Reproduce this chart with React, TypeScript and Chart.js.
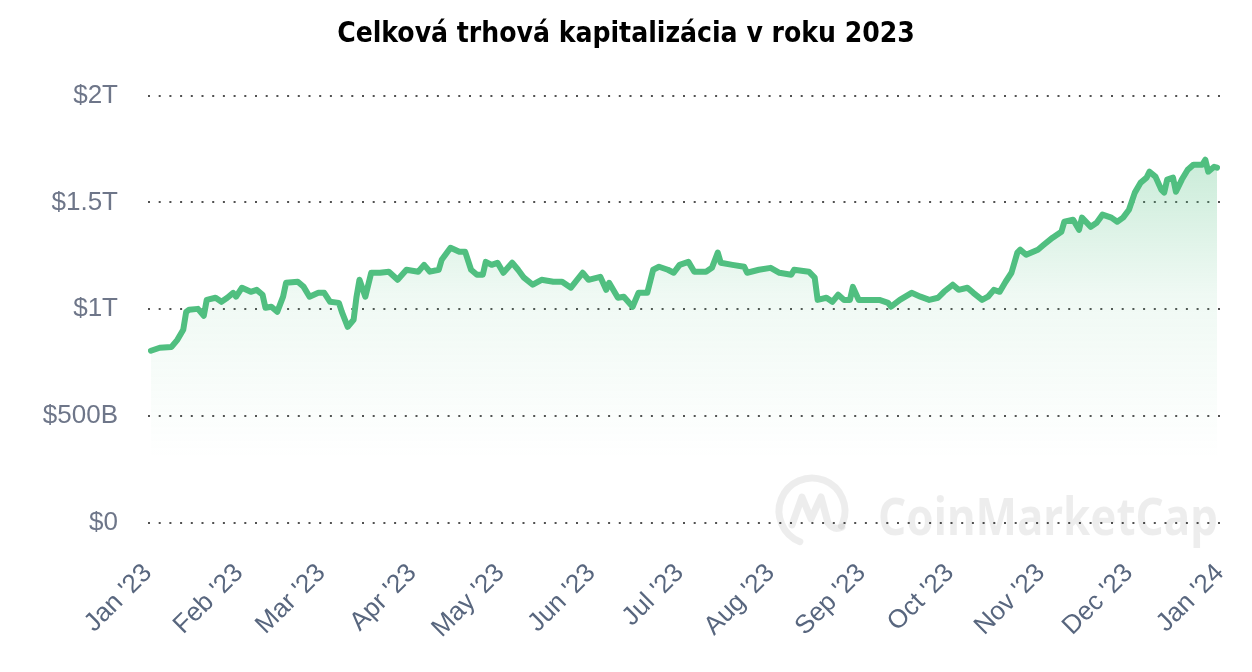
import React, { useEffect, useRef } from "react";
import { Chart, registerables } from "chart.js";

Chart.register(...registerables);

const chartTitle = "Celková trhová kapitalizácia v roku 2023";
const monthLabels = [
  "Jan '23", "Feb '23", "Mar '23", "Apr '23", "May '23", "Jun '23", "Jul '23",
  "Aug '23", "Sep '23", "Oct '23", "Nov '23", "Dec '23", "Jan '24",
];
const monthStartDays = [0, 31, 59, 90, 120, 151, 181, 212, 243, 273, 304, 334, 365];
const yTickValues = [0, 500, 1000, 1500, 2000];

// day of year 2023 (0 = Jan 1) and total market cap in billions USD
const dayOfYear = [
  1, 4, 8, 10, 12, 13, 14, 17, 19, 20, 23, 25, 27, 29, 30, 32, 35, 37, 39, 40,
  42, 44, 46, 47, 51, 53, 55, 58, 60, 62, 65, 66, 68, 70, 71, 72, 74, 76, 79, 82,
  85, 88, 92, 94, 96, 99, 100, 103, 106, 108, 110, 112, 114, 115, 117, 119, 121, 124, 126, 128,
  131, 134, 138, 141, 144, 148, 150, 154, 156, 157, 160, 162, 165, 167, 170, 172, 174, 177, 179, 181,
  184, 186, 190, 192, 194, 195, 199, 203, 204, 208, 212, 215, 219, 220, 225, 227, 228, 231, 233, 235,
  237, 239, 240, 242, 246, 249, 252, 253, 256, 260, 263, 266, 269, 271, 274, 276, 279, 281, 284, 286,
  288, 290, 292, 294, 296, 297, 299, 303, 305, 308, 311, 312, 315, 317, 318, 321, 323, 325, 328, 330,
  332, 334, 336, 338, 340, 341, 343, 345, 346, 347, 349, 350, 352, 354, 356, 359, 360, 361, 363, 364,
];
const marketCapB = [
  806, 820, 824, 857, 904, 988, 998, 1002, 970, 1044, 1054, 1035, 1054, 1077, 1059, 1101, 1082, 1091, 1068, 1007,
  1012, 988, 1059, 1124, 1129, 1105, 1059, 1077, 1077, 1035, 1030, 988, 918, 951, 1059, 1138, 1059, 1171, 1171, 1176,
  1138, 1185, 1176, 1208, 1176, 1185, 1232, 1288, 1269, 1269, 1185, 1162, 1162, 1222, 1208, 1218, 1171, 1218, 1185, 1148,
  1115, 1138, 1129, 1129, 1101, 1171, 1138, 1152, 1091, 1124, 1054, 1059, 1012, 1077, 1077, 1185, 1199, 1185, 1171, 1208,
  1222, 1176, 1176, 1194, 1265, 1218, 1208, 1199, 1171, 1185, 1194, 1171, 1162, 1185, 1176, 1148, 1044, 1054, 1035, 1068,
  1044, 1044, 1105, 1044, 1044, 1044, 1030, 1012, 1044, 1077, 1059, 1044, 1054, 1082, 1115, 1091, 1101, 1077, 1044, 1059,
  1091, 1082, 1129, 1171, 1265, 1279, 1255, 1279, 1302, 1335, 1363, 1410, 1419, 1372, 1429, 1386, 1405, 1443, 1429, 1410,
  1429, 1466, 1546, 1593, 1616, 1644, 1621, 1560, 1546, 1607, 1616, 1550, 1607, 1653, 1677, 1677, 1700, 1644, 1667, 1663,
];

function formatCap(v: number): string {
  if (v === 0) return "$0";
  if (v >= 1000) return "$" + v / 1000 + "T";
  return "$" + v + "B";
}

const watermarkPlugin = {
  id: "cmcWatermark",
  beforeDatasetsDraw(chart: any) {
    const { ctx, chartArea } = chart;
    const col = "rgba(0,0,0,0.07)";
    ctx.save();
    const cx = chartArea.right - 408;
    const cy = chartArea.bottom - 12;
    ctx.strokeStyle = col;
    ctx.lineWidth = 7;
    ctx.lineCap = "round";
    ctx.lineJoin = "round";
    ctx.beginPath();
    ctx.arc(cx, cy, 33, 0.62 * Math.PI, 0.15 * Math.PI + 2 * Math.PI);
    ctx.stroke();
    ctx.beginPath();
    ctx.moveTo(cx - 20, cy + 14);
    ctx.lineTo(cx - 10, cy - 14);
    ctx.lineTo(cx - 1, cy + 8);
    ctx.lineTo(cx + 9, cy - 14);
    ctx.lineTo(cx + 16, cy + 12);
    ctx.quadraticCurveTo(cx + 22, cy + 20, cx + 30, cy + 16);
    ctx.stroke();
    ctx.fillStyle = col;
    ctx.font = "bold 52px 'Noto Sans'";
    ctx.textBaseline = "alphabetic";
    ctx.textAlign = "left";
    const txt = "CoinMarketCap";
    const w = ctx.measureText(txt).width;
    const targetW = 340;
    const x0 = chartArea.right - 2 - targetW;
    ctx.translate(x0, chartArea.bottom + 12);
    ctx.scale(targetW / w, 1);
    ctx.fillText(txt, 0, 0);
    ctx.restore();
  },
};

export default function App() {
  const canvasRef = useRef<HTMLCanvasElement | null>(null);

  useEffect(() => {
    document.body.style.margin = "0";
    const canvas = canvasRef.current;
    if (!canvas) return;
    const points = dayOfYear.map((d, i) => ({ x: d, y: marketCapB[i] }));

    const chart = new Chart(canvas, {
      type: "line",
      data: {
        datasets: [
          {
            data: points,
            borderColor: "#50bf80",
            borderWidth: 6,
            pointRadius: 0,
            tension: 0,
            borderJoinStyle: "round",
            borderCapStyle: "round",
            fill: "origin",
            backgroundColor: (context: any) => {
              const c = context.chart;
              const { ctx, chartArea, scales } = c;
              if (!chartArea || !scales.y) return "rgba(80,191,128,0.1)";
              const y = scales.y;
              const g = ctx.createLinearGradient(0, y.getPixelForValue(1700), 0, y.getPixelForValue(300));
              g.addColorStop(0, "rgba(80,191,128,0.30)");
              g.addColorStop(0.45, "rgba(80,191,128,0.09)");
              g.addColorStop(1, "rgba(80,191,128,0)");
              return g;
            },
          },
        ],
      },
      options: {
        responsive: false,
        animation: false,
        layout: { padding: { top: 0, left: 0, right: 0, bottom: 0 } },
        plugins: {
          legend: { display: false },
          tooltip: { enabled: false },
          title: {
            display: true,
            text: chartTitle,
            color: "#000",
            font: { family: "'DejaVu Sans Condensed', 'DejaVu Sans'", weight: "bold", size: 28 },
            padding: { top: 18, bottom: 44 },
          },
        },
        scales: {
          x: {
            type: "linear",
            min: 0,
            max: 365,
            afterFit: (scale: any) => {
              scale.height = 149;
              scale.paddingLeft = 0;
              scale.paddingRight = 32;
            },
            afterBuildTicks: (scale: any) => {
              scale.ticks = monthStartDays.map((v) => ({ value: v }));
            },
            ticks: {
              autoSkip: false,
              minRotation: 45,
              maxRotation: 45,
              padding: 35,
              color: "#58667e",
              font: { family: "'Liberation Sans', Arial", size: 26 },
              callback: (value: any) => {
                const idx = monthStartDays.indexOf(Number(value));
                return idx >= 0 ? monthLabels[idx] : "";
              },
            },
            grid: { display: false, drawTicks: false },
            border: { display: false },
          },
          y: {
            min: 0,
            max: 2000,
            afterFit: (scale: any) => {
              scale.width = 148;
            },
            afterBuildTicks: (scale: any) => {
              scale.ticks = yTickValues.map((v) => ({ value: v }));
            },
            ticks: {
              padding: 30,
              color: "#6e7689",
              font: { family: "'Liberation Sans', Arial", size: 26 },
              callback: (value: any) => formatCap(Number(value)),
            },
            grid: {
              drawTicks: false,
              color: "rgba(50,50,50,0.85)",
              lineWidth: 2,
            },
            border: { display: false, dash: [2, 8.7] },
          },
        },
      },
      plugins: [watermarkPlugin],
    });

    return () => {
      chart.destroy();
    };
  }, []);

  return (
    <div style={{ width: 1252, height: 672 }}>
      <canvas ref={canvasRef} width={1252} height={672} style={{ display: "block" }} />
    </div>
  );
}
